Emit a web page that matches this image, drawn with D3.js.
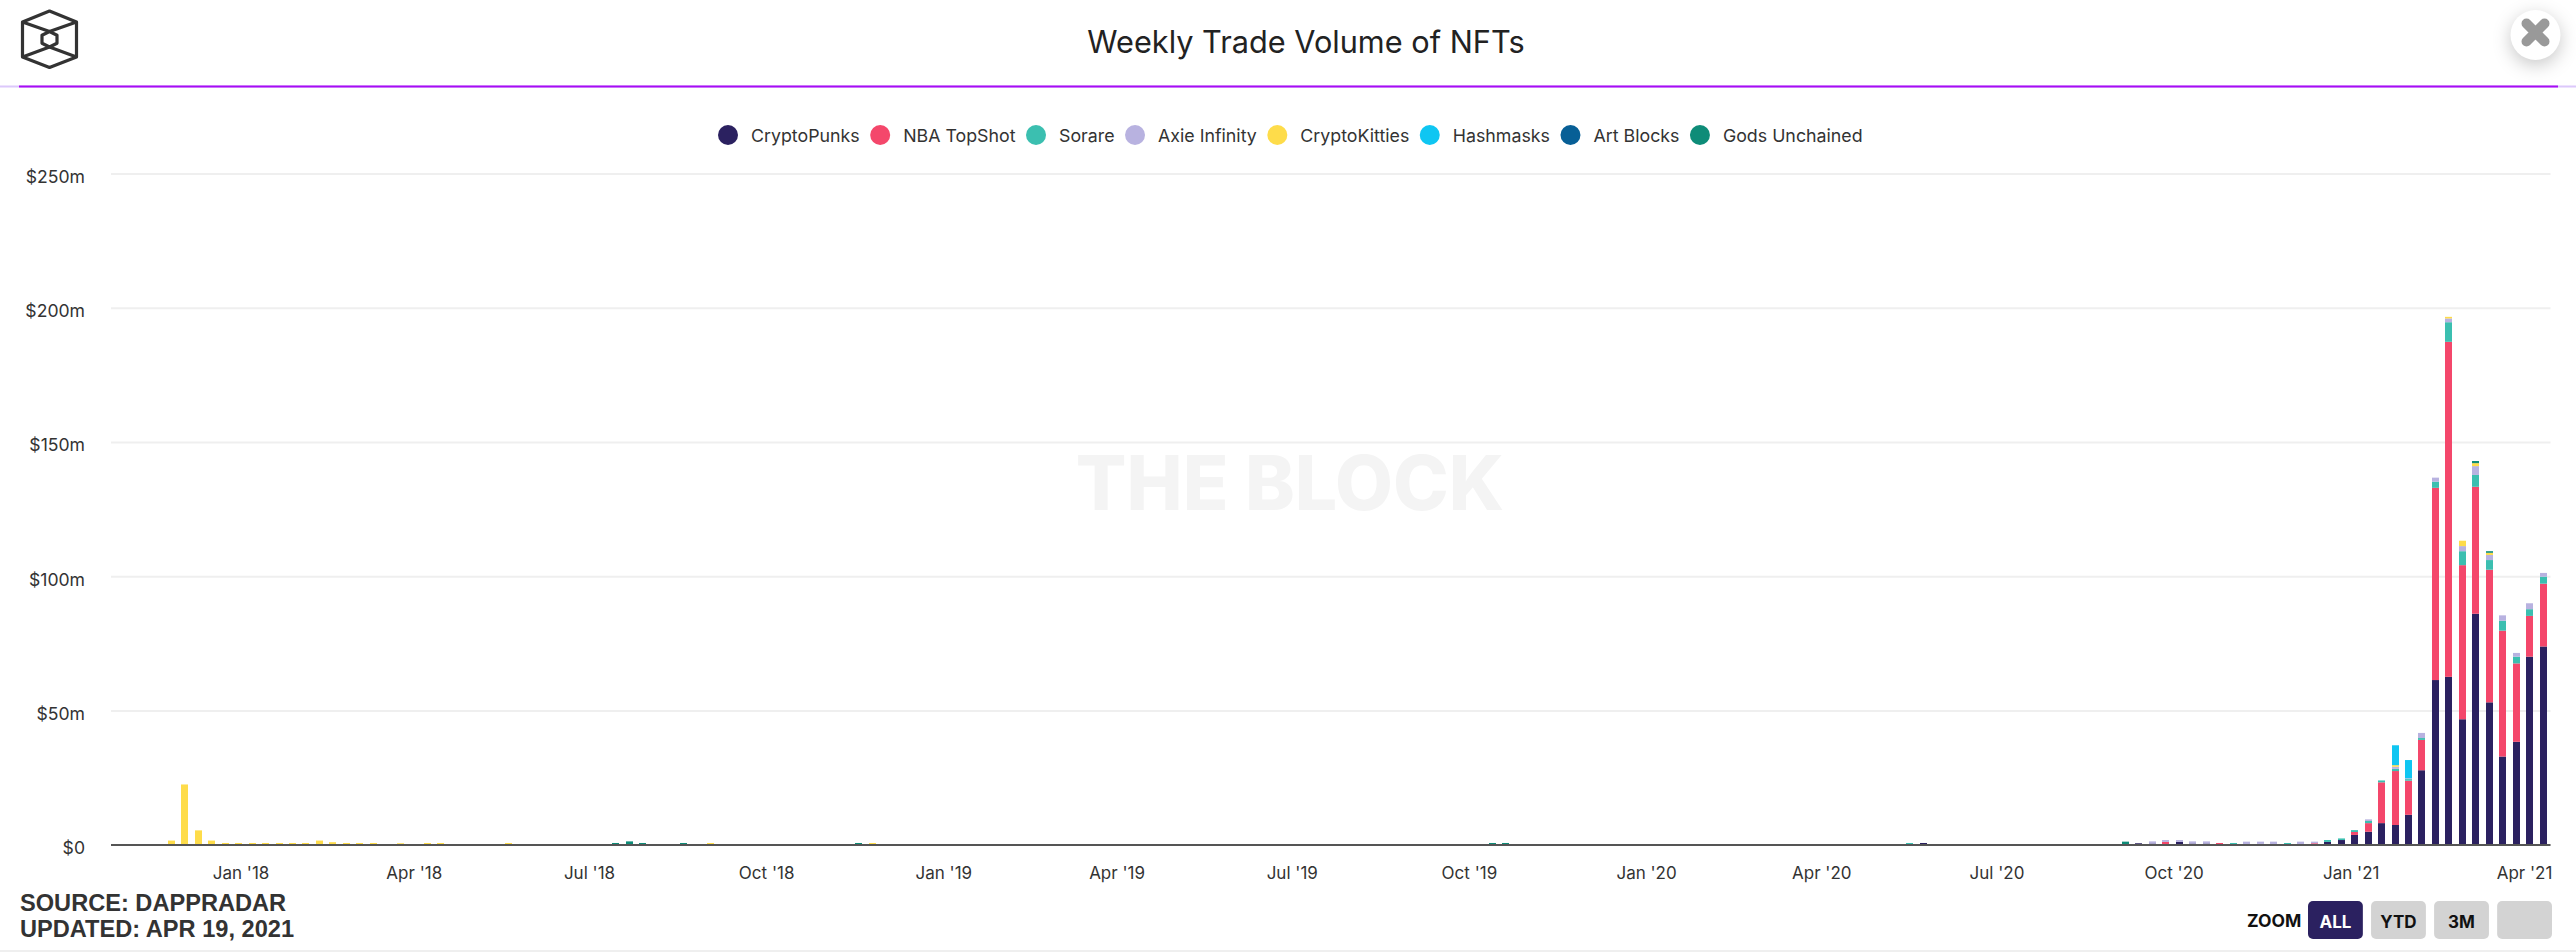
<!DOCTYPE html>
<html><head><meta charset="utf-8">
<script src="https://cdn.jsdelivr.net/npm/d3@7/dist/d3.min.js"></script>
<style>
html,body{margin:0;padding:0;background:#fff;width:2576px;height:952px;overflow:hidden}
svg{display:block}
text{font-family:Inter,"Noto Sans",sans-serif}
</style></head><body>
<svg id="c" width="2576" height="952"></svg>
<script>
const title = "Weekly Trade Volume of NFTs";
const sourceLines = ["SOURCE: DAPPRADAR", "UPDATED: APR 19, 2021"];
const zoomButtons = ["ALL", "YTD", "3M", ""];
const yTicks = [0, 50, 100, 150, 200, 250];
const xTicks = ["2018-01-01","2018-04-01","2018-07-01","2018-10-01","2019-01-01","2019-04-01","2019-07-01","2019-10-01","2020-01-01","2020-04-01","2020-07-01","2020-10-01","2021-01-01","2021-04-01"];
const seriesNames = ["CryptoPunks","NBA TopShot","Sorare","Axie Infinity","CryptoKitties","Hashmasks","Art Blocks","Gods Unchained"];
const seriesColors = ["#2b2160","#f4476b","#3bbfb0","#b8b2e0","#fedc4a","#0fc6f2","#075f96","#0e8c78"];

// Weeks with any visible volume (weeks missing here are zero)
const weeks = [
"2017-11-26","2017-12-03","2017-12-10","2017-12-17","2017-12-24","2017-12-31","2018-01-07","2018-01-14","2018-01-21","2018-01-28",
"2018-02-04","2018-02-11","2018-02-18","2018-02-25","2018-03-04","2018-03-11","2018-03-25","2018-04-08","2018-04-15","2018-05-20",
"2018-07-15","2018-07-22","2018-07-29","2018-08-19","2018-09-02","2018-11-18","2018-11-25","2019-10-13","2019-10-20","2020-05-17","2020-05-24",
"2020-09-06","2020-09-13","2020-09-20","2020-09-27","2020-10-04","2020-10-11","2020-10-18","2020-10-25","2020-11-01","2020-11-08",
"2020-11-15","2020-11-22","2020-11-29","2020-12-06","2020-12-13","2020-12-20","2020-12-27","2021-01-03","2021-01-10","2021-01-17",
"2021-01-24","2021-01-31","2021-02-07","2021-02-14","2021-02-21","2021-02-28","2021-03-07","2021-03-14","2021-03-21","2021-03-28","2021-04-04","2021-04-11"];

const cryptoPunks = [
0,0,0,0,0,0,0,0,0,0, 0,0,0,0,0,0,0,0,0,0, 0,0,0,0,0,0,0,0,0,0,.6,
0,.5,.4,0,1,.4,.4,0,0,0, .3,0,0,0,0,1,1.7,3.6,4.8,8,
7.3,11.1,27.7,61.3,62.5,46.7,86,53,32.8,38.3,70,73.8];
const nbaTopShot = [
0,0,0,0,0,0,0,0,0,0, 0,0,0,0,0,0,0,0,0,0, 0,0,0,0,0,0,0,0,0,0,0,
0,0,0,1,0,0,0,.6,0,0, 0,0,0,0,.5,0,0,1.1,3.2,15.2,
20.1,12.7,11.3,71.6,124.8,57.4,47.3,49.4,46.9,29.2,15.2,23.4];
const sorare = [
0,0,0,0,0,0,0,0,0,0, 0,0,0,0,0,0,0,0,0,0, 0,0,0,0,0,0,0,0,0,.6,0,
0,0,0,0,0,0,0,0,.6,0, 0,0,.6,0,0,.7,.6,.7,.8,.7,
.8,.6,.7,2.3,7.3,5.2,4.4,3.6,3.7,2.5,2.5,2.6];
const axieInfinity = [
0,0,0,0,0,0,0,0,0,0, 0,0,0,0,0,0,0,0,0,0, 0,0,0,0,0,0,0,0,0,0,0,
0,0,.8,.7,.7,.8,.8,0,0,1.1, .8,1.1,0,1.1,.6,0,0,0,.6,0,
.8,.3,1.9,1.5,1.4,1.9,3.3,1.9,2,1.4,2.2,1.4];
const cryptoKitties = [
1.5,22.4,5.3,1.5,.6,.6,.6,.6,.6,.6, .6,1.5,.9,.6,.6,.6,.5,.6,.6,.6, 0,0,0,0,.6,0,.6,0,0,0,0,
0,0,0,0,0,0,0,0,0,0, 0,0,0,0,0,0,0,0,0,0,
.6,0,0,0,.6,2,1.1,.8,0,0,0,0];
const hashmasks = [
0,0,0,0,0,0,0,0,0,0, 0,0,0,0,0,0,0,0,0,0, 0,0,0,0,0,0,0,0,0,0,0,
0,0,0,0,0,0,0,0,0,0, 0,0,0,0,0,0,0,0,0,0,
7.4,6.8,0,0,0,0,0,0,0,0,0,0];
const artBlocks = [
0,0,0,0,0,0,0,0,0,0, 0,0,0,0,0,0,0,0,0,0, 0,0,0,0,0,0,0,0,0,0,0,
0,0,0,0,0,0,0,0,0,0, 0,0,0,0,0,0,0,0,0,0,
0,0,0,0,0,0,0,0,0,0,0,0];
const godsUnchained = [
0,0,0,0,0,0,0,0,0,0, 0,0,0,0,0,0,0,0,0,0, .6,1.2,.6,.6,0,.6,0,.6,.6,0,0,
1.1,0,0,0,0,0,0,0,0,0, 0,0,0,0,0,0,0,0,0,0,
0,0,0,0,0,0,.8,.6,0,0,0,0];
const seriesValues = [cryptoPunks,nbaTopShot,sorare,axieInfinity,cryptoKitties,hashmasks,artBlocks,godsUnchained];

const svg = d3.select("#c");
const plot = {left:111, right:2550.5, top:173.5, bottom:844.6};
const parse = d3.utcParse("%Y-%m-%d");

const x = d3.scaleUtc().domain([parse("2017-10-26"),parse("2021-04-15")]).range([plot.left+.5, plot.right+.5]);
const y = d3.scaleLinear().domain([0,250]).range([plot.bottom, plot.top]);

// chrome: header rule, footer rule
svg.append("rect").attr("x",0).attr("y",85.5).attr("width",2576).attr("height",2).attr("fill","#dcc8fb");
svg.append("rect").attr("x",19).attr("y",85.5).attr("width",2539).attr("height",2).attr("fill","#a80cf5");
svg.append("rect").attr("x",0).attr("y",950).attr("width",2576).attr("height",2).attr("fill","#efefef");

// logo
const logo = svg.append("g").attr("fill","none").attr("stroke","#333").attr("stroke-width",3.2).attr("stroke-linejoin","round");
logo.append("path").attr("d","M49.5 11 L76.5 22 L76.5 57 L49.5 67.5 L22.5 57 L22.5 22 Z");
logo.append("path").attr("d","M49.5 31.5 L57 35.2 L57 43.2 L49.5 47 L42 43.2 L42 35.2 Z");
logo.append("path").attr("d","M22.5 22 L49.5 31.5 L76.5 22 M22.5 57 L49.5 47 L76.5 57");

// title
svg.append("text").text(title).attr("x",1306).attr("y",53).attr("text-anchor","middle")
  .attr("font-size",30.7).attr("fill","#222");

// close button
const close = svg.append("g");
close.append("circle").attr("cx",2535.5).attr("cy",35).attr("r",25).attr("fill","#fff")
  .style("filter","drop-shadow(0 5px 9px rgba(0,0,0,.22))");
close.append("path").attr("d","M2526.5 23.5 L2544.5 41.5 M2544.5 23.5 L2526.5 41.5")
  .attr("stroke","#999").attr("stroke-width",10).attr("stroke-linecap","round").attr("fill","none");

// watermark
svg.append("text").text("THE BLOCK").attr("x",1290).attr("y",510).attr("text-anchor","middle")
  .attr("font-size",75).attr("font-weight",800).attr("fill","#f4f4f4");

// y axis + grid
const yAxis = d3.axisLeft(y).tickValues(yTicks).tickSize(-(plot.right-plot.left))
  .tickFormat(v => v===0 ? "$0" : `$${v}m`);
const gy = svg.append("g").attr("transform",`translate(${plot.left},0)`).call(yAxis);
gy.select(".domain").remove();
gy.selectAll(".tick line").attr("stroke","#efefef").attr("stroke-width",2);
gy.selectAll(".tick text").attr("x",-26).attr("dy",9).attr("text-anchor","end")
  .attr("font-size",17.6).attr("font-family","Inter").attr("fill","#333");

// stacked bars
const table = weeks.map((w,i)=>{
  const row = {date:parse(w)};
  seriesNames.forEach((n,s)=>row[n]=seriesValues[s][i]);
  return row;
});
const stacked = d3.stack().keys(seriesNames)(table);
const barW = 7;
svg.append("g").selectAll("g").data(stacked).join("g")
  .attr("fill",(d,i)=>seriesColors[i])
  .selectAll("rect").data(d=>d.filter(p=>p[1]>p[0])).join("rect")
  .attr("x",d=>Math.round(x(d.data.date)-barW/2))
  .attr("width",barW)
  .attr("y",d=>y(d[1]))
  .attr("height",d=>y(d[0])-y(d[1]));

// x axis
const xAxis = d3.axisBottom(x).tickValues(xTicks.map(parse)).tickSize(0).tickFormat(d3.utcFormat("%b '%y"));
const gx = svg.append("g").attr("transform",`translate(0,${plot.bottom})`).call(xAxis);
gx.select(".domain").remove();
gx.selectAll(".tick text").attr("y",34).attr("dy",0).attr("font-size",17).attr("font-family","Inter").attr("fill","#333");
svg.append("rect").attr("x",plot.left).attr("y",844).attr("width",plot.right-plot.left).attr("height",2).attr("fill","#555");

// legend
const leg = svg.append("g");
let cx = 728;
seriesNames.forEach((n,i)=>{
  const g = leg.append("g").attr("transform",`translate(${cx},135)`);
  g.append("circle").attr("r",10).attr("fill",seriesColors[i]);
  const t = g.append("text").text(n).attr("x",23).attr("y",6.5).attr("font-size",17.8).attr("fill","#333");
  cx += 23 + t.node().getComputedTextLength() + 20.5;
});

// source
sourceLines.forEach((s,i)=>{
  svg.append("text").text(s).attr("x",20).attr("y",911+i*26)
    .attr("font-size",23.6).attr("font-weight",700).attr("fill","#333")
    .style("font-family","'Liberation Sans',Arial,sans-serif");
});

// zoom buttons
svg.append("text").text("ZOOM").attr("x",2247).attr("y",927).attr("font-size",17.5).attr("font-weight",700).attr("fill","#111");
const btn = d3.scaleBand().domain(d3.range(zoomButtons.length)).range([2308,2552]).paddingInner(.13);
zoomButtons.forEach((b,i)=>{
  svg.append("rect").attr("x",btn(i)).attr("y",901).attr("width",btn.bandwidth()).attr("height",38).attr("rx",5)
    .attr("fill",i===0?"#2b2160":"#d3d3d3");
  if(b) svg.append("text").text(b).attr("x",btn(i)+btn.bandwidth()/2).attr("y",928).attr("text-anchor","middle")
    .attr("font-size",17).attr("font-weight",700).attr("fill",i===0?"#fff":"#111");
});
</script></body></html>
